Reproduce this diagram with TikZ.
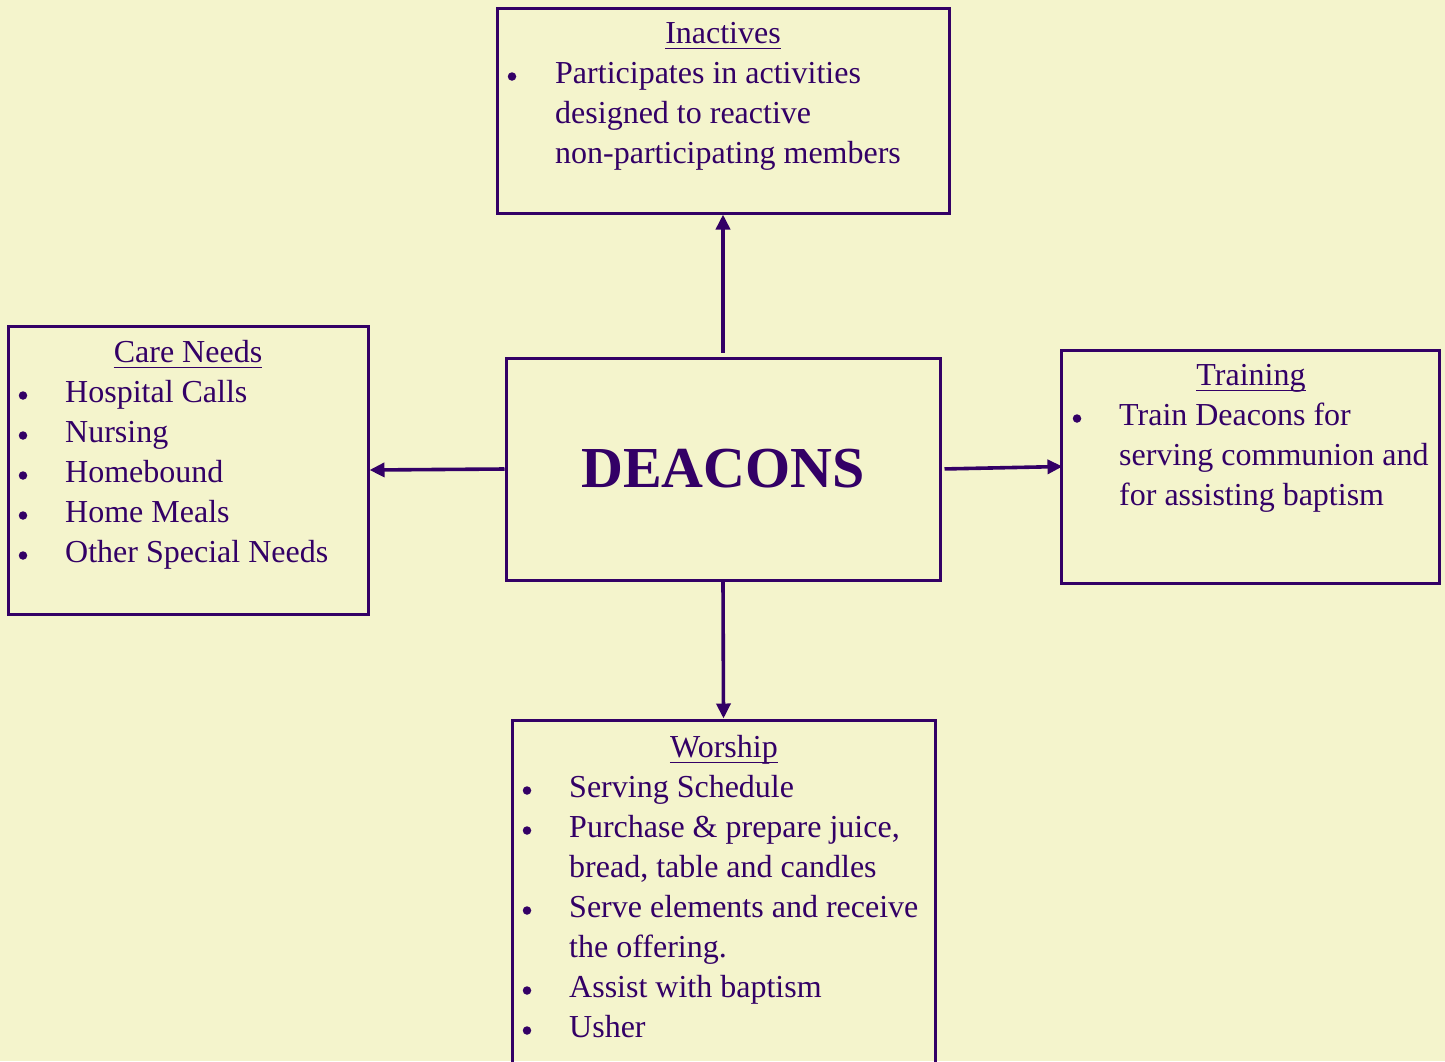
\documentclass[tikz,border=0pt]{standalone}
\usepackage{fontspec}
\setmainfont{Liberation Serif}
\usetikzlibrary{arrows.meta}
\definecolor{bg}{HTML}{F4F4CC}
\definecolor{ink}{HTML}{330066}
\begin{document}
\begin{tikzpicture}[x=1pt,y=-1pt,
  box/.style={draw=ink, line width=3pt, rectangle, inner sep=0pt},
  txt/.style={text=ink, inner sep=0pt, anchor=base west, font=\fontsize{32}{40}\selectfont},
  ttl/.style={text=ink, inner sep=0pt, anchor=base, font=\fontsize{32}{40}\selectfont},
  bul/.style={fill=ink, circle, inner sep=0pt, minimum size=8.5pt},
  uline/.style={draw=ink, line width=1.8pt},
  conn/.style={draw=ink, line width=3.6pt, -{Triangle[length=15pt,width=14pt]}}]
\fill[bg] (0,0) rectangle (1445,1061);
\useasboundingbox (0,0) rectangle (1445,1061);
\clip (0,0) rectangle (1445,1061);

% boxes
\node[box, minimum width=452pt, minimum height=205pt] (inactives) at (723,110.5) {};
\node[box, minimum width=434pt, minimum height=222pt] (deacons) at (723,469) {};
\node[box, minimum width=360pt, minimum height=288pt] (care) at (188,470) {};
\node[box, minimum width=378pt, minimum height=233pt] (training) at (1250,466.5) {};
\node[box, minimum width=423pt, minimum height=380pt] (worship) at (723.5,910) {};

% DEACONS
\node[text=ink, inner sep=0pt, anchor=base, font=\fontsize{58}{60}\selectfont\bfseries] (dtext) at (723,487) {DEACONS};

% Inactives
\node[ttl] (tin) at (723,43.5) {Inactives};
\draw[uline] ([yshift=-5pt]tin.base west) -- ([yshift=-5pt]tin.base east);
\node[bul] (bin1) at (512,76.5) {};
\node[txt] (in1) at (555,83.5) {Participates in activities};
\node[txt] (in2) at (555,123.5) {designed to reactive};
\node[txt] (in3) at (555,163.5) {non-participating members};

% Care Needs
\node[ttl] (tcare) at (188,362.5) {Care Needs};
\draw[uline] ([yshift=-5pt]tcare.base west) -- ([yshift=-5pt]tcare.base east);
\node[bul] (bc1) at (23,395.5) {};
\node[txt] (c1) at (65,402.5) {Hospital Calls};
\node[bul] (bc2) at (23,435.5) {};
\node[txt] (c2) at (65,442.5) {Nursing};
\node[bul] (bc3) at (23,475.5) {};
\node[txt] (c3) at (65,482.5) {Homebound};
\node[bul] (bc4) at (23,515.5) {};
\node[txt] (c4) at (65,522.5) {Home Meals};
\node[bul] (bc5) at (23,555.5) {};
\node[txt] (c5) at (65,562.5) {Other Special Needs};

% Training
\node[ttl] (ttr) at (1251,385.5) {Training};
\draw[uline] ([yshift=-5pt]ttr.base west) -- ([yshift=-5pt]ttr.base east);
\node[bul] (bt1) at (1077,418.5) {};
\node[txt] (t1) at (1119,425.5) {Train Deacons for};
\node[txt] (t2) at (1119,465.5) {serving communion and};
\node[txt] (t3) at (1119,505.5) {for assisting baptism};

% Worship
\node[ttl] (tw) at (724,757.5) {Worship};
\draw[uline] ([yshift=-5pt]tw.base west) -- ([yshift=-5pt]tw.base east);
\node[bul] (bw1) at (527,790.5) {};
\node[txt] (w1) at (569,797.5) {Serving Schedule};
\node[bul] (bw2) at (527,830.5) {};
\node[txt] (w2) at (569,837.5) {Purchase \& prepare juice,};
\node[txt] (w3) at (569,877.5) {bread, table and candles};
\node[bul] (bw4) at (527,910.5) {};
\node[txt] (w4) at (569,917.5) {Serve elements and receive};
\node[txt] (w5) at (569,957.5) {the offering.};
\node[bul] (bw6) at (527,990.5) {};
\node[txt] (w6) at (569,997.5) {Assist with baptism};
\node[bul] (bw7) at (527,1030.5) {};
\node[txt] (w7) at (569,1037.5) {Usher};

% connectors
\draw[conn, shorten <=4pt] (deacons.north) -- (inactives.south);
\draw[conn] (deacons.west) -- (care.east);
\draw[conn, shorten <=3pt] (deacons.east) -- ([xshift=3pt]training.west);
\draw[conn] (deacons.south) -- (worship.north);
\end{tikzpicture}
\end{document}
